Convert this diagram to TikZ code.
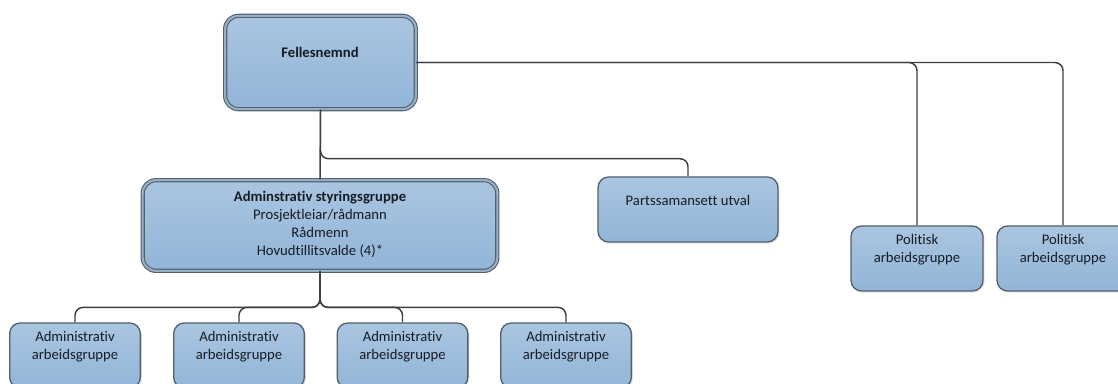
\documentclass[tikz,border=0pt]{standalone}
\usepackage{fontspec}
\setmainfont{Carlito}[RawFeature={-liga}]
\usetikzlibrary{shadows}
\definecolor{boitehaut}{RGB}{170,197,224}
\definecolor{boitebas}{RGB}{146,181,216}
\definecolor{bord}{RGB}{84,96,108}
\definecolor{bordclair}{RGB}{150,175,200}
\definecolor{trait}{RGB}{62,62,62}
\definecolor{encre}{RGB}{22,28,38}

\begin{document}
\begin{tikzpicture}[x=0.75pt,y=-0.75pt]

  % Cadre de l'image
  \clip (0,0) rectangle (1118,383);

  % Style des boites et des liens
  \tikzstyle{boite} = [draw=bord, line width=1pt, rounded corners=8pt, top color=boitehaut, bottom color=boitebas, inner sep=0pt, drop shadow={opacity=0.2, shadow xshift=1.2pt, shadow yshift=-1.2pt}]
  \tikzstyle{grandeboite} = [boite, line width=0.8pt, double=bordclair, double distance=1.6pt, rounded corners=10pt]
  \tikzstyle{lien} = [draw=trait, line width=1.1pt, rounded corners=6pt]
  \tikzstyle{etiquette} = [align=center, text=encre, font=\fontsize{11}{13.5}\selectfont]

  % Liste des boites
  \node[grandeboite, minimum width=143pt, minimum height=70pt] (fellesnemnd) at (320.5,62.5) {};
  \node[grandeboite, minimum width=266pt, minimum height=68pt] (styring) at (320,225.5) {};
  \node[boite, minimum width=135pt, minimum height=48.8pt] (partssam) at (688,209.5) {};
  \node[boite, minimum width=99pt, minimum height=48.8pt] (politisk1) at (917,258.5) {};
  \node[boite, minimum width=99pt, minimum height=48.8pt] (politisk2) at (1063,258.5) {};
  \node[boite, minimum width=98pt, minimum height=48.8pt] (admin1) at (75,355.5) {};
  \node[boite, minimum width=98pt, minimum height=48.8pt] (admin2) at (239,355.5) {};
  \node[boite, minimum width=98pt, minimum height=48.8pt] (admin3) at (402.5,355.5) {};
  \node[boite, minimum width=98pt, minimum height=48.8pt] (admin4) at (566,355.5) {};

  % Liens
  \draw[lien] (fellesnemnd.east) -| (politisk1.north);
  \draw[lien] (fellesnemnd.east) -| (politisk2.north);
  \draw[lien] (fellesnemnd.south) -- (styring.north);
  \draw[lien] (fellesnemnd.south) -- ++(0,49) -| (partssam.north);
  \draw[lien] (styring.south) -- ++(0,36) -| (admin1.north);
  \draw[lien] (styring.south) -- ++(0,36) -| (admin2.north);
  \draw[lien] (styring.south) -- ++(0,36) -| (admin3.north);
  \draw[lien] (styring.south) -- ++(0,36) -| (admin4.north);

  % Textes
  \node[etiquette] (t-fellesnemnd) at (320,52) {\bfseries Fellesnemnd};
  \node[etiquette] (t-styring) at (320,224) {\bfseries Adminstrativ styringsgruppe\\Prosjektleiar/rådmann\\Rådmenn\\Hovudtillitsvalde (4)*};
  \node[etiquette] (t-partssam) at (688,200) {Partssamansett utval};
  \node[etiquette] (t-politisk1) at (917,250) {Politisk\\arbeidsgruppe};
  \node[etiquette] (t-politisk2) at (1063,250) {Politisk\\arbeidsgruppe};
  \node[etiquette] (t-admin1) at (75,347) {Administrativ\\arbeidsgruppe};
  \node[etiquette] (t-admin2) at (239,347) {Administrativ\\arbeidsgruppe};
  \node[etiquette] (t-admin3) at (402.5,347) {Administrativ\\arbeidsgruppe};
  \node[etiquette] (t-admin4) at (566,347) {Administrativ\\arbeidsgruppe};

\end{tikzpicture}
\end{document}
